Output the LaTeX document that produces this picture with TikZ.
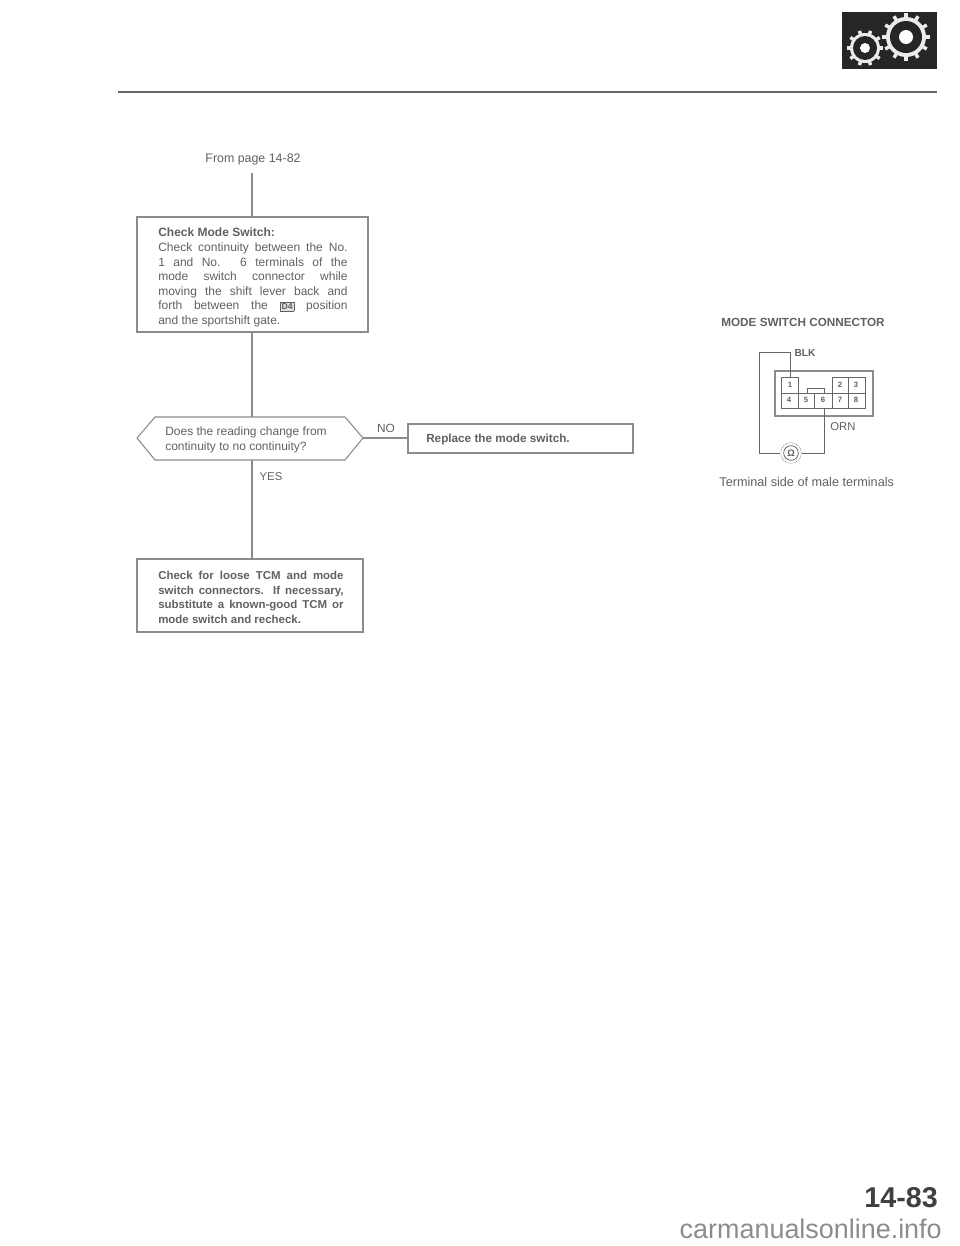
\documentclass[tikz,border=0pt]{standalone}
\usepackage{fontspec}
\setmainfont{Liberation Sans}
\definecolor{ink}{gray}{0.38}
\definecolor{lineg}{gray}{0.55}
\tikzset{
 boxed/.style={draw=lineg,line width=0.8pt,fill=white},
 wire/.style={draw=lineg,line width=0.8pt},
 lab/.style={text=ink,inner sep=0pt,font=\fontsize{9.3}{11}\selectfont},
 wirek/.style={draw=black!60,line width=0.65pt},
 cn/.style={text=ink,inner sep=0pt,font=\bfseries\fontsize{5.8}{6}\selectfont},
}
\begin{document}
\begin{tikzpicture}[x=0.75pt,y=-0.75pt]
\useasboundingbox (0,0) rectangle (960,1246);
\fill[white] (0,0) rectangle (960,1246);
% header
\coordinate (ruleL) at (118,92); \coordinate (ruleR) at (937,92);
\draw[line width=1.1pt,black!60] (ruleL) -- (ruleR);
\fill[black!85] (842,12) rectangle (937,69);
\begin{scope}
\clip (842,12) rectangle (937,69);
\foreach \cx/\cy/\ro/\mid/\ri/\hole/\n in {865/48/18/15/12/5/10,906/37/24/20/16/7/12}{
 \foreach \k in {1,...,\n}{
  \draw[white!92!black,line width=2.6pt] (\cx,\cy) -- ++({360/\n*\k}:\ro);
 }
 \fill[white!92!black] (\cx,\cy) circle[radius=\mid*0.75pt];
 \fill[black!85] (\cx,\cy) circle[radius=\ri*0.75pt];
 \fill[white] (\cx,\cy) circle[radius=\hole*0.75pt];
}
\end{scope}
% flow
\node[lab] (from) at (253,159) {From page 14-82};
\coordinate (fromEnd) at (252,173);
\node[boxed,minimum width=173.25pt,minimum height=86.25pt,inner sep=0pt] (b1) at (252.5,274.5) {};
\node[boxed,minimum width=168.75pt,minimum height=21.75pt,inner sep=0pt] (b2) at (520.5,438.5) {};
\node[boxed,minimum width=169.5pt,minimum height=54.75pt,inner sep=0pt] (b3) at (250,595.5) {};
\coordinate (dT) at (252,417); \coordinate (dB) at (252,460);
\coordinate (dL) at (137,438); \coordinate (dR) at (363,438);
\draw[boxed] (dL) -- (155,417) -- (345,417) -- (dR) -- (345,460) -- (155,460) -- cycle;
\draw[wire] (fromEnd) -- (b1.north -| fromEnd);
\draw[wire] (b1.south -| dT) -- (dT);
\draw[wire] (dB) -- (b3.north -| dB);
\draw[wire] (dR) -- (dR -| b2.west);
\node[lab,anchor=north west,align=left,font=\fontsize{9}{10.9}\selectfont] (t1) at (158,228) {%
 \textbf{Check Mode Switch:}\\
 \makebox[142pt][s]{Check continuity between the No.}\\
 \makebox[142pt][s]{1 and No. 6 terminals of the}\\
 \makebox[142pt][s]{mode switch connector while}\\
 \makebox[142pt][s]{moving the shift lever back and}\\
 \makebox[142pt][s]{forth between the {\fboxsep=1pt\fboxrule=0.4pt\raisebox{0pt}[0pt][0pt]{\fcolorbox{ink}{black!12}{\bfseries\fontsize{6.5}{6.5}\selectfont D4}}} position}\\
 and the sportshift gate.};
\node[lab,align=left,anchor=west,font=\fontsize{9}{10.9}\selectfont] (t2) at (165,440) {Does the reading change from\\continuity to no continuity?};
\node[lab,anchor=west,font=\bfseries\fontsize{8.8}{10}\selectfont] (t3) at (426,439.5) {Replace the mode switch.};
\node[lab,anchor=north west,align=left,font=\bfseries\fontsize{8.6}{10.9}\selectfont] (t4) at (158,571) {%
 \makebox[139pt][s]{Check for loose TCM and mode}\\
 \makebox[139pt][s]{switch connectors. If necessary,}\\
 \makebox[139pt][s]{substitute a known-good TCM or}\\
 mode switch and recheck.};
\node[lab,font=\fontsize{8.9}{10}\selectfont] (no) at (386,428) {NO};
\node[lab,font=\fontsize{8.5}{10}\selectfont] (yes) at (271,477) {YES};
% connector
\node[lab,font=\bfseries\fontsize{8.8}{10}\selectfont] (ct) at (803,322) {MODE SWITCH CONNECTOR};
\node[lab,font=\fontsize{9.5}{11}\selectfont] (cap) at (806.7,482) {Terminal side of male terminals};
\draw[wirek,black!45,line width=1pt] (775,371) rectangle (873,416);
\draw[wirek] (781,377) -- (798,377) -- (798,393) -- (832,393) -- (832,377) -- (865,377) -- (865,408) -- (781,408) -- cycle;
\draw[wirek] (781,393) -- (798,393);
\draw[wirek] (832,393) -- (865,393);
\draw[wirek] (798,393) -- (798,408) (814,393) -- (814,408) (832,393) -- (832,408) (848,377) -- (848,408);
\foreach \nm/\xx/\yy/\tx in {c1/790/385/1,c2/840/385/2,c3/856/385/3,c4/789/400/4,c5/806/400/5,c6/823/400/6,c7/840/400/7,c8/856/400/8}
 \node[cn] (\nm) at (\xx,\yy) {\tx};
\node[circle,draw=black!60,densely dotted,line width=0.5pt,minimum size=15.5pt,inner sep=0pt] (mo) at (791,453) {};
\node[circle,draw=black!60,line width=0.6pt,minimum size=11pt,inner sep=0pt,text=ink,font=\bfseries\fontsize{7}{7}\selectfont] (m) at (791,453) {Ω};
\coordinate (w1) at (790,378); \coordinate (w6) at (824,408);
\draw[wirek] (w1) -- (790,352) -- (759,352) -- (759,453) -- (mo.west);
\draw[wirek] (mo.east) -- (824,453) -- (w6);
\draw[wirek] (807,393) -- (807,388) -- (824,388) -- (824,393);
\node[lab,font=\bfseries\fontsize{7.6}{8}\selectfont] (blk) at (805,353) {BLK};
\node[lab,font=\fontsize{8.5}{9}\selectfont] (orn) at (843,427) {ORN};
% page number
\node[text=black!75,inner sep=0pt,anchor=east,font=\bfseries\fontsize{21.5}{22}\selectfont] (pg) at (938,1198) {14-83};
\node[text=black!45,inner sep=0pt,anchor=base east,font=\fontsize{20.2}{22}\selectfont] (wm) at (942,1238) {carmanualsonline.info};
\end{tikzpicture}
\end{document}
